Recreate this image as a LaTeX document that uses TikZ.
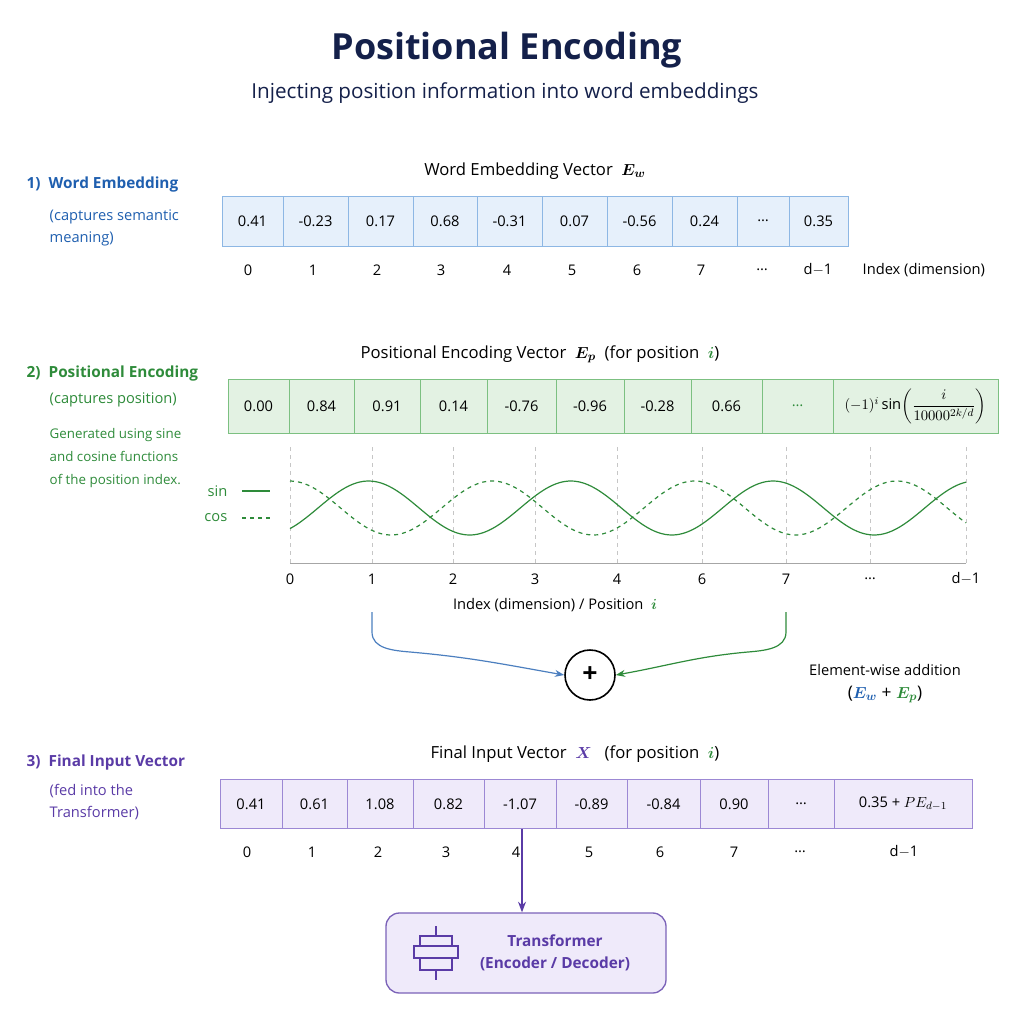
\documentclass[tikz,border=0pt]{standalone}
\usepackage{fontspec}
\setmainfont{Open Sans}
\usepackage{amsmath}
\usetikzlibrary{arrows.meta}
\definecolor{navy}{HTML}{14204A}
\definecolor{wblue}{HTML}{1F5FAF}
\definecolor{wfill}{HTML}{E6F0FB}
\definecolor{wline}{HTML}{8DB7E4}
\definecolor{pgreen}{HTML}{2E8B3A}
\definecolor{pfill}{HTML}{E3F2E3}
\definecolor{pline}{HTML}{7CC081}
\definecolor{xpurp}{HTML}{5A3BA6}
\definecolor{xfill}{HTML}{EFEAFA}
\definecolor{xline}{HTML}{9C88D4}
\tikzset{
  cell/.style={draw, inner sep=0pt, minimum height=#1, font=\fontsize{11}{13}\selectfont},
  idx/.style={font=\fontsize{11}{13}\selectfont},
  side/.style={font=\fontsize{11}{16}\selectfont, align=left, anchor=west}
}
\begin{document}
\begin{tikzpicture}[x=0.75pt,y=-0.75pt]
    \useasboundingbox (0,0) rectangle (1024,1024);

    % title
    \node[font=\bfseries\fontsize{27}{32}\selectfont, text=navy] (title) at (507,50) {Positional Encoding};
    \node[font=\fontsize{15.5}{18}\selectfont, text=navy] (sub) at (505,93) {Injecting position information into word embeddings};

    % 1) word embedding
    \node[side, text=wblue, font=\bfseries\fontsize{11.5}{14}\selectfont] (l1) at (22,185) {1)~~Word Embedding};
    \node[side, text=wblue] (l1b) at (45,228) {(captures semantic\\meaning)};
    \node[font=\fontsize{12.5}{14}\selectfont] (h1) at (535,171) {Word Embedding Vector~~$\boldsymbol{E_w}$};
    \foreach \a/\b/\t in {222/283/0.41,283/348/-0.23,348/413/0.17,413/477/0.68,477/542/-0.31,542/607/0.07,607/672/-0.56,672/737/0.24,737/789/\dots,789/848/0.35}
      \node[cell=37.5pt, draw=wline, fill=wfill, minimum width={(\b-\a)*0.75pt}] (w\a) at ({(\a+\b)/2},221) {\t};
    \foreach \x/\t in {248/0,313/1,377/2,441/3,507/4,572/5,637/6,701/7,762/\dots,818/d$-$1}
      \node[idx] (wi\x) at (\x,270) {\t};
    \node[idx, anchor=west] (wlab) at (858,270) {Index (dimension)};

    % 2) positional encoding
    \node[side, text=pgreen, font=\bfseries\fontsize{11.5}{14}\selectfont] (l2) at (22,374) {2)~~Positional Encoding};
    \node[side, text=pgreen] (l2b) at (45,400) {(captures position)};
    \node[side, text=pgreen, font=\fontsize{10}{17}\selectfont] (l2c) at (45,458) {Generated using sine\\and cosine functions\\of the position index.};
    \node[font=\fontsize{12.5}{14}\selectfont] (h2) at (540,354) {Positional Encoding Vector~~$\boldsymbol{E_p}$~~(for position~~{\color{pgreen}$\boldsymbol{i}$})};
    \foreach \a/\b/\t in {228/289/0.00,289/354/0.84,354/420/0.91,420/487/0.14,487/556/-0.76,556/624/-0.96,624/691/-0.28,691/762/0.66,762/833/{\color{pgreen}\dots}}
      \node[cell=40.5pt, draw=pline, fill=pfill, minimum width={(\b-\a)*0.75pt}] (p\a) at ({(\a+\b)/2},406) {\t};
    \node[cell=40.5pt, draw=pline, fill=pfill, minimum width={165*0.75pt}] (pf) at (915.5,406) {$(-1)^i\sin\!\left(\dfrac{i}{10000^{2k/d}}\right)$};

    % plot
    \foreach \x in {290,372,453,535,617,702,786,870,966}
      \draw[gray!45, dashed] (\x,447) -- (\x,563);
    \draw[gray!70] (290,563) -- (966,563);
    \draw[pgreen, line width=0.9pt, domain=290:966, samples=120, smooth]
      plot (\x,{508-27*sin((\x-318)*1.78)});
    \draw[pgreen, line width=0.9pt, dashed, domain=290:966, samples=120, smooth]
      plot (\x,{508-27*cos((\x-290)*1.78)});
    \node[idx, text=pgreen, anchor=east] (sin) at (232,491) {sin};
    \draw[pgreen, line width=0.9pt] (242,491) -- (270,491);
    \node[idx, text=pgreen, anchor=east] (cos) at (232,518) {cos};
    \draw[pgreen, line width=0.9pt, dashed] (242,518) -- (270,518);
    \foreach \x/\t in {290/0,372/1,453/2,535/3,617/4,702/6,786/7,870/\dots,966/d$-$1}
      \node[idx] (t\x) at (\x,579) {\t};
    \node[idx] (plab) at (555,605) {Index (dimension) / Position~~{\color{pgreen}$\boldsymbol{i}$}};

    % addition
    \node[draw, circle, line width=1.2pt, minimum size=37.5pt, inner sep=0pt, font=\bfseries\fontsize{20}{20}\selectfont] (plus) at (590,675) {+};
    \coordinate (bs) at (372,612);
    \coordinate (gs) at (786,612);
    \draw[wblue!80, line width=0.9pt, -{Stealth[length=7pt]}] (bs) -- (372,632) to[out=-90,in=175] (410,652) to[out=-5,in=170] (plus.west);
    \draw[pgreen, line width=0.9pt, -{Stealth[length=7pt]}] (gs) -- (786,632) to[out=-90,in=5] (748,652) to[out=185,in=10] (plus.east);
    \node[idx, align=center] (ew) at (885,684) {Element-wise addition\\[4pt]\fontsize{13}{15}\selectfont({\color{wblue}$\boldsymbol{E_w}$} + {\color{pgreen}$\boldsymbol{E_p}$})};

    % 3) final input
    \node[side, text=xpurp, font=\bfseries\fontsize{11.5}{14}\selectfont] (l3) at (22,763) {3)~~Final Input Vector};
    \node[side, text=xpurp] (l3b) at (45,802) {(fed into the\\Transformer)};
    \node[font=\fontsize{12.5}{14}\selectfont] (h3) at (575,754) {Final Input Vector~~{\color{xpurp}$\boldsymbol{X}$}~~~(for position~~{\color{pgreen}$\boldsymbol{i}$})};
    \foreach \a/\b/\t in {220/282/0.41,282/347/0.61,347/413/1.08,413/484/0.82,484/556/-1.07,556/627/-0.89,627/700/-0.84,700/768/0.90,768/834/\dots,834/972/{0.35 + $PE_{d-1}$}}
      \node[cell=37pt, draw=xline, fill=xfill, minimum width={(\b-\a)*0.75pt}] (x\a) at ({(\a+\b)/2},804) {\t};
    \foreach \x/\t in {247/0,312/1,378/2,446/3,516/4,589/5,660/6,734/7,800/\dots,904/d$-$1}
      \node[idx] (xi\x) at (\x,852) {\t};

    % transformer
    \node[draw=xpurp!80, fill=xfill, rounded corners=10pt, line width=1pt, minimum width=210pt, minimum height=60pt] (tr) at (526,953) {};
    \node[text=xpurp, font=\bfseries\fontsize{11.5}{16}\selectfont, align=center] (trt) at (555,953) {Transformer\\(Encoder / Decoder)};
    \draw[xpurp, line width=1pt, -{Stealth[length=8pt]}] (x484.south -| 522,0) -- (tr.north -| 522,0);
    \begin{scope}[xpurp, line width=0.9pt]
      \draw (420,936) rectangle (452,946);
      \draw (414,946) rectangle (458,958);
      \draw (420,958) rectangle (452,970);
      \draw (436,926) -- (436,936) (436,970) -- (436,980);
    \end{scope}
\end{tikzpicture}
\end{document}
